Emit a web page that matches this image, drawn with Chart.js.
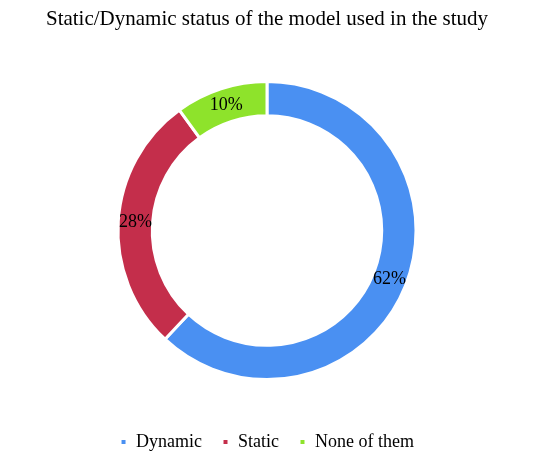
<!DOCTYPE html>
<html>
<head>
<meta charset="utf-8">
<script src="https://cdn.jsdelivr.net/npm/chart.js@4"></script>
<style>
  html, body { margin: 0; padding: 0; background: #fff; }
  #wrap { width: 534px; height: 465px; }
</style>
</head>
<body>
<div id="wrap"><canvas id="status-chart"></canvas></div>
<script>
const labels = ['Dynamic', 'Static', 'None of them'];
const shares = [62, 28, 10];
const colors = ['#4a90f2', '#c42e4b', '#8ee32b'];

// draws the % text in the middle of each ring segment
const sliceLabels = {
  id: 'sliceLabels',
  afterDatasetsDraw(chart) {
    const ctx = chart.ctx;
    const meta = chart.getDatasetMeta(0);
    ctx.save();
    ctx.font = '18px "Liberation Serif", "Times New Roman", serif';
    ctx.fillStyle = '#000';
    ctx.textAlign = 'center';
    ctx.textBaseline = 'middle';
    meta.data.forEach((arc, i) => {
      const pos = arc.tooltipPosition();
      ctx.fillText(shares[i] + '%', pos.x, pos.y);
    });
    ctx.restore();
  }
};

const ctx = document.getElementById('status-chart').getContext('2d');
new Chart(ctx, {
  type: 'doughnut',
  data: {
    labels: labels,
    datasets: [{
      data: shares,
      backgroundColor: colors,
      borderColor: '#fff',
      borderWidth: 3,
      radius: 149,
      cutout: '77%'
    }]
  },
  options: {
    responsive: true,
    maintainAspectRatio: false,
    animation: false,
    layout: { padding: { bottom: 4 } },
    plugins: {
      title: {
        display: true,
        text: 'Static/Dynamic status of the model used in the study',
        color: '#000',
        font: { family: '"Liberation Serif", "Times New Roman", serif', size: 21, weight: 'normal' },
        padding: { top: 7, bottom: 16 }
      },
      legend: {
        position: 'bottom',
        labels: {
          color: '#000',
          boxWidth: 7,
          boxHeight: 7,
          padding: 20,
          font: { family: '"Liberation Serif", "Times New Roman", serif', size: 18 }
        }
      },
      tooltip: { enabled: false }
    }
  },
  plugins: [sliceLabels]
});
</script>
</body>
</html>
